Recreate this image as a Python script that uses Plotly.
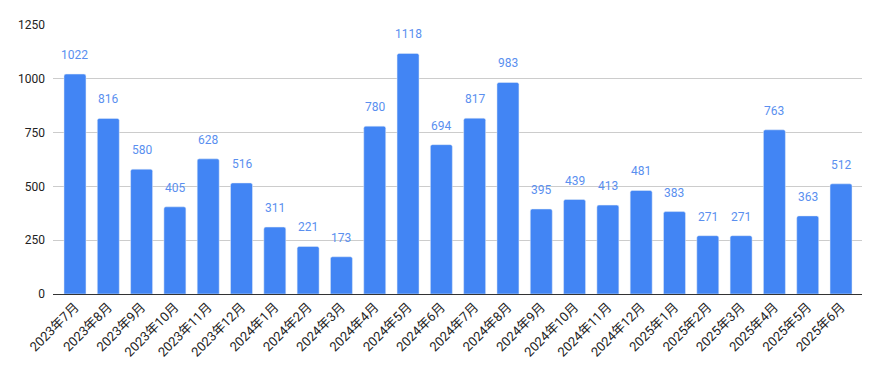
import plotly.graph_objects as go

categories = ["2023年7月","2023年8月","2023年9月","2023年10月","2023年11月","2023年12月",
              "2024年1月","2024年2月","2024年3月","2024年4月","2024年5月","2024年6月",
              "2024年7月","2024年8月","2024年9月","2024年10月","2024年11月","2024年12月",
              "2025年1月","2025年2月","2025年3月","2025年4月","2025年5月","2025年6月"]
values = [1022, 816, 580, 405, 628, 516, 311, 221, 173, 780, 1118, 694,
          817, 983, 395, 439, 413, 481, 383, 271, 271, 763, 363, 512]
y_ticks = [0, 250, 500, 750, 1000, 1250]

BLUE = "#4285F4"
FONT = "Roboto, 'Noto Sans CJK JP', sans-serif"

fig = go.Figure()
fig.add_trace(go.Bar(x=categories, y=values, marker=dict(color=BLUE, cornerradius=2),
                     width=0.66, hoverinfo="x+y"))

annotations = [dict(x=c, y=v, text=str(v), showarrow=False, yshift=19, xref="x", yref="y",
                    font=dict(family=FONT, size=12, color="#5A8FEF"))
               for c, v in zip(categories, values)]

# page body has an 8px default margin, so the figure is sized/offset to compensate
fig.update_layout(
    width=874, height=363,
    margin=dict(l=45, r=20, t=17, b=77),
    plot_bgcolor="white", paper_bgcolor="white",
    showlegend=False,
    annotations=annotations,
    font=dict(family=FONT, size=12, color="#222222"),
    xaxis=dict(type="category", range=[-0.66, 23.63], tickangle=-45, automargin=False,
               showgrid=False, ticks="", tickfont=dict(size=13, color="#222222"),
               ticklabelstandoff=2, showline=False),
    yaxis=dict(range=[0, 1250], tickvals=y_ticks, showgrid=True, gridcolor="#cccccc",
               automargin=False,
               gridwidth=1, zeroline=True, zerolinecolor="#333333", zerolinewidth=1,
               ticks="", ticklabelstandoff=7, tickfont=dict(size=12, color="#222222")),
)

fig.write_html("out.html")
